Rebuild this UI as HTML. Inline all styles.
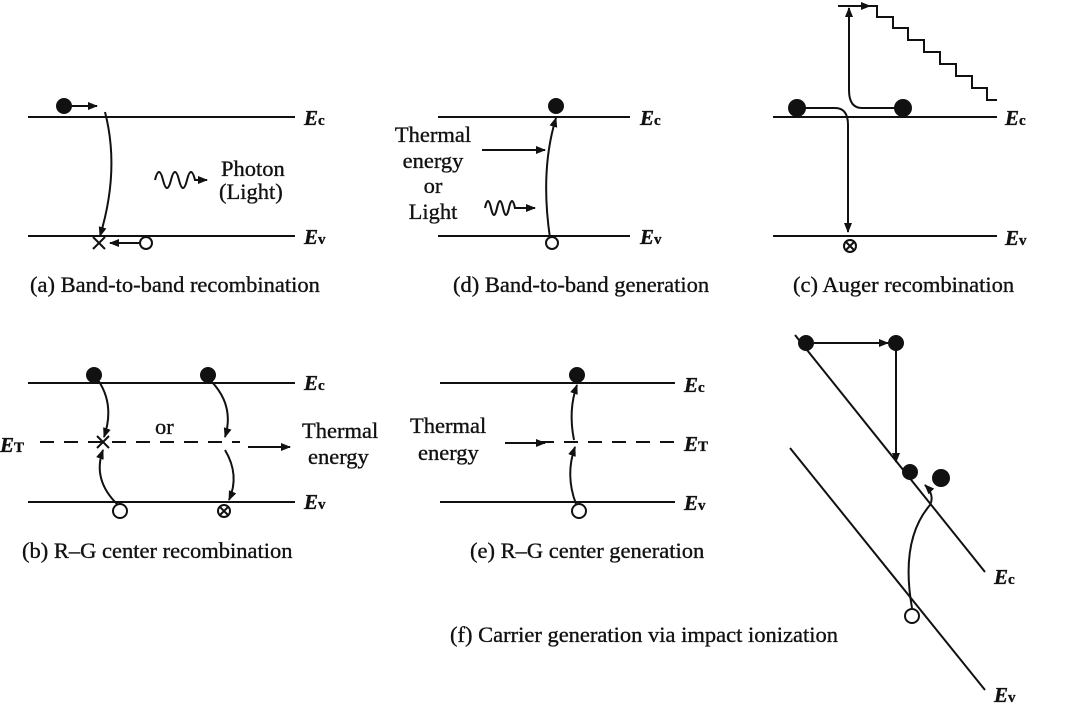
<!DOCTYPE html>
<html><head><meta charset="utf-8"><style>
body{margin:0;background:#fff}
svg{display:block}
text{font-family:"Liberation Serif",serif;fill:#111;stroke:#111;stroke-width:0.35px}
.t{font-size:22.5px}
.l{font-size:21px;font-style:italic;font-weight:bold}
</style></head><body>
<svg width="1080" height="712" viewBox="0 0 1080 712">
<defs><marker id="a" markerWidth="10" markerHeight="8" refX="9" refY="4" orient="auto" markerUnits="userSpaceOnUse"><path d="M0,0 L10,4 L0,8 Z" fill="#111"/></marker></defs>
<g stroke="#111" stroke-width="2" fill="none">
<g>
<line x1="28" y1="117" x2="295" y2="117"/><line x1="28" y1="236" x2="295" y2="236"/>
<line x1="72" y1="106" x2="97" y2="106" marker-end="url(#a)"/>
<path d="M105,112 Q120,170 100,236" marker-end="url(#a)"/>
<path d="M93,237 l12,12 M105,237 l-12,12"/>
<line x1="139" y1="243" x2="110" y2="243" marker-end="url(#a)"/>
<circle cx="146" cy="243" r="6"/>
<path d="M155,180 q4,-16 8,0 q4,16 8,0 q4,-16 8,0 q4,16 8,0 q4,-16 8,0 l12,0" marker-end="url(#a)"/>
</g>
<g>
<line x1="438" y1="117" x2="630" y2="117"/><line x1="438" y1="236" x2="630" y2="236"/>
<line x1="482" y1="150" x2="545" y2="150" marker-end="url(#a)"/>
<path d="M485,208 q3,-14 6,0 q3,14 6,0 q3,-14 6,0 q3,14 6,0 q3,-14 6,0 l20,0" marker-end="url(#a)"/>
<path d="M550,238 Q540,170 556,118" marker-end="url(#a)"/>
<circle cx="552" cy="243" r="6"/>
</g>
<g>
<line x1="773" y1="117" x2="997" y2="117"/><line x1="773" y1="236" x2="997" y2="236"/>
<path d="M805,108 L835,108 Q848,108 848,125 L848,232" marker-end="url(#a)"/>
<path d="M898,108 L862,108 Q849,108 849,90 L849,8" marker-end="url(#a)"/>
<line x1="838" y1="6" x2="870" y2="6" marker-end="url(#a)"/>
<path d="M870,6 H877 V17 H893 V28 H908 V40 H924 V52 H940 V64 H956 V76 H972 V88 H987 V100 H997"/>
<circle cx="850" cy="246" r="6"/><path d="M846,242 l8,8 M854,242 l-8,8"/>
</g>
<g>
<line x1="28" y1="383" x2="295" y2="383"/><line x1="28" y1="502" x2="295" y2="502"/>
<line x1="40" y1="442" x2="240" y2="442" stroke-dasharray="14,10"/>
<path d="M98,380 Q115,405 104,437" marker-end="url(#a)"/>
<path d="M210,380 Q235,405 225,437" marker-end="url(#a)"/>
<path d="M97,436 l12,12 M109,436 l-12,12"/>
<path d="M118,505 Q92,480 103,450" marker-end="url(#a)"/>
<path d="M225,450 Q240,475 229,500" marker-end="url(#a)"/>
<circle cx="120" cy="511" r="7"/>
<circle cx="224" cy="511" r="6"/><path d="M220,507 l8,8 M228,507 l-8,8"/>
<line x1="248" y1="447" x2="290" y2="447" marker-end="url(#a)"/>
</g>
<g>
<line x1="440" y1="383" x2="675" y2="383"/><line x1="440" y1="502" x2="675" y2="502"/>
<line x1="540" y1="442" x2="675" y2="442" stroke-dasharray="14,10"/>
<line x1="505" y1="443" x2="545" y2="443" marker-end="url(#a)"/>
<path d="M576,504 Q565,475 575,447" marker-end="url(#a)"/>
<path d="M574,440 Q568,410 577,385" marker-end="url(#a)"/>
<circle cx="579" cy="511" r="7"/>
</g>
<g>
<line x1="795" y1="335" x2="985" y2="572"/><line x1="790" y1="448" x2="985" y2="690"/>
<line x1="814" y1="343" x2="888" y2="343" marker-end="url(#a)"/>
<line x1="896" y1="350" x2="896" y2="462" marker-end="url(#a)"/>
<path d="M912,608 Q900,540 930,505 Q935,495 925,485" marker-end="url(#a)"/>
<circle cx="912" cy="616" r="7"/>
</g>
</g>
<g fill="#111">
<circle cx="64" cy="106" r="8"/><circle cx="556" cy="106" r="8"/>
<circle cx="797" cy="108" r="9"/><circle cx="903" cy="108" r="9"/>
<circle cx="94" cy="375" r="8"/><circle cx="208" cy="375" r="8"/><circle cx="577" cy="375" r="8"/>
<circle cx="806" cy="343" r="8"/><circle cx="896" cy="343" r="8"/>
<circle cx="910" cy="472" r="8"/><circle cx="941" cy="478" r="9"/>
</g>
<g>
<text class="l" x="304" y="125">E<tspan font-size="15" font-style="normal">c</tspan></text>
<text class="l" x="304" y="244">E<tspan font-size="15" font-style="normal">v</tspan></text>
<text class="t" x="221" y="176">Photon</text>
<text class="t" x="219" y="199">(Light)</text>
<text class="t" x="30" y="292">(a) Band-to-band recombination</text>
<text class="l" x="640" y="125">E<tspan font-size="15" font-style="normal">c</tspan></text>
<text class="l" x="640" y="244">E<tspan font-size="15" font-style="normal">v</tspan></text>
<g text-anchor="middle">
<text class="t" x="433" y="142">Thermal</text><text class="t" x="433" y="168">energy</text><text class="t" x="433" y="193">or</text><text class="t" x="433" y="219">Light</text></g>
<text class="t" x="453" y="292">(d) Band-to-band generation</text>
<text class="l" x="1005" y="125">E<tspan font-size="15" font-style="normal">c</tspan></text>
<text class="l" x="1005" y="245">E<tspan font-size="15" font-style="normal">v</tspan></text>
<text class="t" x="793" y="292">(c) Auger recombination</text>
<text class="l" x="304" y="390">E<tspan font-size="15" font-style="normal">c</tspan></text>
<text class="l" x="304" y="509">E<tspan font-size="15" font-style="normal">v</tspan></text>
<text class="l" x="0" y="452">E<tspan font-size="15" font-style="normal">T</tspan></text>
<text class="t" x="155" y="434">or</text>
<text class="t" x="302" y="438">Thermal</text>
<text class="t" x="308" y="464">energy</text>
<text class="t" x="22" y="558">(b) R–G center recombination</text>
<text class="l" x="684" y="392">E<tspan font-size="15" font-style="normal">c</tspan></text>
<text class="l" x="684" y="451">E<tspan font-size="15" font-style="normal">T</tspan></text>
<text class="l" x="684" y="510">E<tspan font-size="15" font-style="normal">v</tspan></text>
<text class="t" x="410" y="433">Thermal</text>
<text class="t" x="418" y="460">energy</text>
<text class="t" x="470" y="558">(e) R–G center generation</text>
<text class="l" x="994" y="584">E<tspan font-size="15" font-style="normal">c</tspan></text>
<text class="l" x="994" y="702">E<tspan font-size="15" font-style="normal">v</tspan></text>
<text class="t" x="450" y="642">(f) Carrier generation via impact ionization</text>
</g>
</svg>
</body></html>
